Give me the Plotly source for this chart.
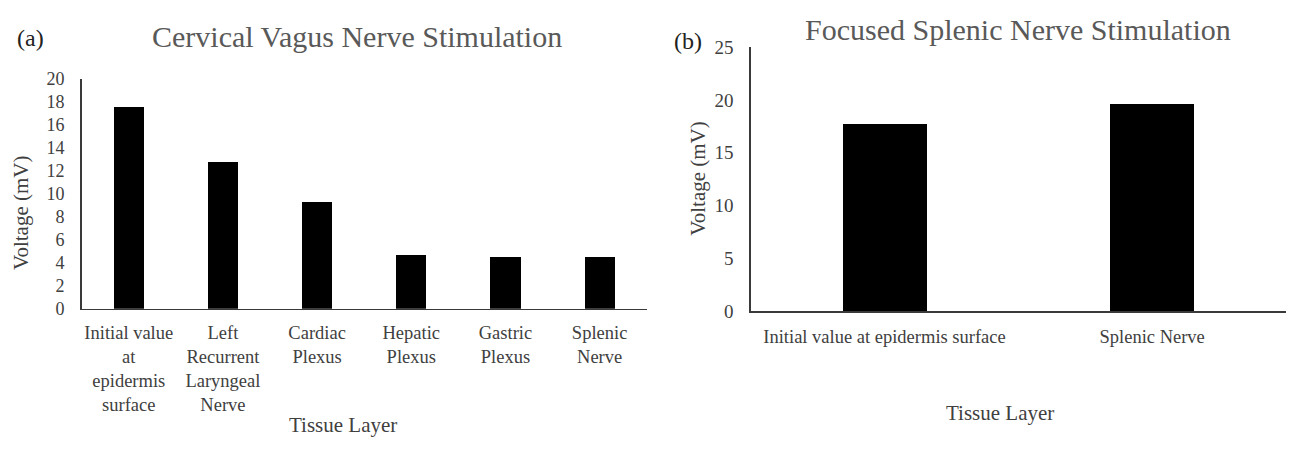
import plotly.graph_objects as go

# Panel (a) data
cats_a = ["Initial value at epidermis surface", "Left Recurrent Laryngeal Nerve",
          "Cardiac Plexus", "Hepatic Plexus", "Gastric Plexus", "Splenic Nerve"]
labels_a = ["Initial value<br>at<br>epidermis<br>surface", "Left<br>Recurrent<br>Laryngeal<br>Nerve",
            "Cardiac<br>Plexus", "Hepatic<br>Plexus", "Gastric<br>Plexus", "Splenic<br>Nerve"]
vals_a = [17.5, 12.8, 9.3, 4.7, 4.5, 4.5]
yticks_a = [0, 2, 4, 6, 8, 10, 12, 14, 16, 18, 20]

# Panel (b) data
cats_b = ["Initial value at epidermis surface", "Splenic Nerve"]
vals_b = [17.7, 19.6]
yticks_b = [0, 5, 10, 15, 20, 25]

FONT = "Liberation Serif"
TXT = "#404040"
TITLE = "#595959"
AX = "#3a3a3a"
W, H = 1292, 450

fig = go.Figure()
fig.add_trace(go.Bar(x=cats_a, y=vals_a, marker=dict(color="black", line=dict(width=0)),
                     width=0.32, xaxis="x", yaxis="y", showlegend=False, hoverinfo="skip"))
fig.add_trace(go.Bar(x=cats_b, y=vals_b, marker=dict(color="black", line=dict(width=0)),
                     width=0.314, xaxis="x2", yaxis="y2", showlegend=False, hoverinfo="skip"))

def px(x): return x / W
def py(y): return 1 - y / H

common_x = dict(showline=True, linecolor=AX, linewidth=1.5, showgrid=False, ticks="",
                zeroline=False, tickfont=dict(family=FONT, size=18.5, color=TXT), fixedrange=True)
common_y = dict(showline=True, linecolor=AX, linewidth=1.5, showgrid=False, ticks="",
                zeroline=False, fixedrange=True)

fig.update_layout(
    width=W, height=H, autosize=False,
    margin=dict(l=0, r=0, t=0, b=0),
    paper_bgcolor="white", plot_bgcolor="white",
    bargap=0,
    xaxis=dict(common_x, domain=[px(81.7), px(646.7)], anchor="y",
               tickmode="array", tickvals=cats_a, ticktext=labels_a, ticklabelstandoff=6),
    yaxis=dict(common_y, domain=[py(313.5), py(72)], anchor="x", range=[0, 20],
               tickmode="array", tickvals=yticks_a, ticklabelstandoff=12,
               tickfont=dict(family=FONT, size=18, color=TXT)),
    xaxis2=dict(common_x, domain=[px(750.7), px(1286)], anchor="y2",
                tickmode="array", tickvals=cats_b, ticktext=cats_b, ticklabelstandoff=8),
    yaxis2=dict(common_y, domain=[py(316), py(39)], anchor="x2", range=[0, 25],
                tickmode="array", tickvals=yticks_b, ticklabelstandoff=12,
                tickfont=dict(family=FONT, size=19, color=TXT)),
)

ann = [
    dict(text="(a)", x=px(30), y=py(29), font=dict(family=FONT, size=24, color="#222222")),
    dict(text="(b)", x=px(688), y=py(33), font=dict(family=FONT, size=24, color="#222222")),
    dict(text="Cervical Vagus Nerve Stimulation", x=px(357), y=py(28),
         font=dict(family=FONT, size=30, color=TITLE)),
    dict(text="Focused Splenic Nerve Stimulation", x=px(1018), y=py(20),
         font=dict(family=FONT, size=30, color=TITLE)),
    dict(text="Voltage (mV)", x=px(21), y=py(213), textangle=-90,
         font=dict(family=FONT, size=21, color=TXT)),
    dict(text="Voltage (mV)", x=px(698), y=py(177), textangle=-90,
         font=dict(family=FONT, size=21, color=TXT)),
    dict(text="Tissue Layer", x=px(343), y=py(435), font=dict(family=FONT, size=21, color=TXT)),
    dict(text="Tissue Layer", x=px(1000), y=py(423), font=dict(family=FONT, size=21, color=TXT)),
]
for a in ann:
    a.update(xref="paper", yref="paper", xanchor="center", yanchor="middle", showarrow=False)
fig.update_layout(annotations=ann)

fig.write_html("out.html", config={"displayModeBar": False, "staticPlot": True},
               post_script="document.body.style.margin='0';document.body.style.overflow='hidden';")
